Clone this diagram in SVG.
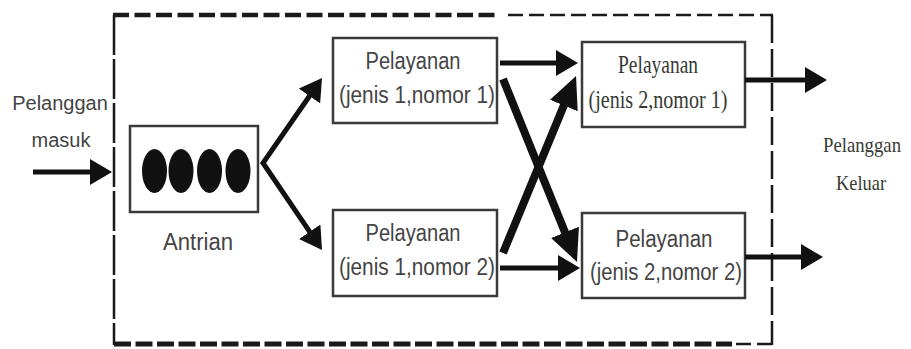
<svg xmlns="http://www.w3.org/2000/svg" width="911" height="349" viewBox="0 0 911 349">
  <style>
    .box { fill: #ffffff; stroke: #3a3a3a; stroke-width: 2.5; }
    .sans { font-family: "Liberation Sans", Arial, sans-serif; fill: #444444; text-anchor: middle; }
    .serif { font-family: "Liberation Serif", "Times New Roman", serif; fill: #363a34; text-anchor: middle; }
    .arrow { fill: none; stroke: #111111; stroke-width: 5; stroke-linejoin: miter; }
    .arrow-thick { fill: none; stroke: #111111; stroke-width: 8; }
    .frame { fill: none; stroke: #1a1a1a; }
    .dot { fill: #111111; }
  </style>
  <defs>
    <marker id="head-s" markerUnits="userSpaceOnUse" markerWidth="22" markerHeight="26" refX="12" refY="13" orient="auto-start-reverse">
      <path d="M0,0 L22,13 L0,26 z" fill="#111111"/>
    </marker>
    <marker id="head-l" markerUnits="userSpaceOnUse" markerWidth="32" markerHeight="30" refX="18" refY="15" orient="auto">
      <path d="M0,0 L32,15 L0,30 z" fill="#111111"/>
    </marker>
  </defs>

  <!-- system boundary (dashed frame) -->
  <g id="boundary">
    <line class="frame" x1="113" y1="15" x2="497" y2="15" stroke-width="4.5" stroke-dasharray="16 5.5"/>
    <line class="frame" x1="508" y1="15" x2="773" y2="15" stroke-width="2.5" stroke-dasharray="15 6"/>
    <line class="frame" x1="114" y1="15" x2="114" y2="345" stroke-width="2.5" stroke-dasharray="40 4"/>
    <line class="frame" x1="772" y1="15" x2="772" y2="345" stroke-width="2.5" stroke-dasharray="28 6"/>
    <line class="frame" x1="114" y1="344" x2="732" y2="344" stroke-width="5" stroke-dasharray="17 4.5"/>
    <line class="frame" x1="736" y1="344" x2="773" y2="344" stroke-width="2.5" stroke-dasharray="15 6"/>
  </g>

  <!-- external labels -->
  <g id="label-in">
    <text class="sans" x="60" y="110" font-size="20">Pelanggan</text>
    <text class="sans" x="61" y="147" font-size="20">masuk</text>
  </g>
  <g id="label-out">
    <text class="serif" x="862" y="152" font-size="21" textLength="78" lengthAdjust="spacingAndGlyphs">Pelanggan</text>
    <text class="serif" x="861" y="190" font-size="21" textLength="50" lengthAdjust="spacingAndGlyphs">Keluar</text>
  </g>

  <!-- queue -->
  <g id="antrian">
    <rect class="box" x="130" y="126" width="128" height="86"/>
    <ellipse class="dot" cx="154.5" cy="171" rx="12.5" ry="22"/>
    <ellipse class="dot" cx="181" cy="171" rx="12.5" ry="22"/>
    <ellipse class="dot" cx="209.5" cy="171" rx="12.5" ry="22"/>
    <ellipse class="dot" cx="238" cy="171" rx="12.5" ry="22"/>
    <text class="sans" x="198" y="250" font-size="23" textLength="70" lengthAdjust="spacingAndGlyphs">Antrian</text>
  </g>

  <!-- service stage 1 -->
  <g id="server-1-1">
    <rect class="box" x="333" y="38" width="164" height="85"/>
    <text class="sans" x="413" y="69" font-size="23" textLength="95" lengthAdjust="spacingAndGlyphs">Pelayanan</text>
    <text class="sans" x="417" y="103" font-size="23" textLength="156" lengthAdjust="spacingAndGlyphs">(jenis 1,nomor 1)</text>
  </g>
  <g id="server-1-2">
    <rect class="box" x="333" y="210" width="164" height="86"/>
    <text class="sans" x="413" y="241" font-size="23" textLength="95" lengthAdjust="spacingAndGlyphs">Pelayanan</text>
    <text class="sans" x="417" y="275" font-size="23" textLength="156" lengthAdjust="spacingAndGlyphs">(jenis 1,nomor 2)</text>
  </g>

  <!-- service stage 2 -->
  <g id="server-2-1">
    <rect class="box" x="582" y="42" width="163" height="85"/>
    <text class="serif" x="658" y="73" font-size="25" textLength="80" lengthAdjust="spacingAndGlyphs">Pelayanan</text>
    <text class="serif" x="658" y="108" font-size="25" textLength="139" lengthAdjust="spacingAndGlyphs">(jenis 2,nomor 1)</text>
  </g>
  <g id="server-2-2">
    <rect class="box" x="582" y="213" width="163" height="85"/>
    <text class="sans" x="664" y="247" font-size="23" textLength="97" lengthAdjust="spacingAndGlyphs">Pelayanan</text>
    <text class="sans" x="666" y="280" font-size="23" textLength="152" lengthAdjust="spacingAndGlyphs">(jenis 2,nomor 2)</text>
  </g>

  <!-- connectors -->
  <g id="connectors">
    <line class="arrow" x1="33" y1="172" x2="102" y2="172" marker-end="url(#head-s)"/>
    <polyline class="arrow" points="316.3,86.2 263,163 316.4,241.7" marker-start="url(#head-s)" marker-end="url(#head-s)"/>
    <line class="arrow" x1="500" y1="63" x2="568" y2="63" marker-end="url(#head-s)"/>
    <line class="arrow" x1="500" y1="268" x2="570" y2="268" marker-end="url(#head-s)"/>
    <line class="arrow-thick" x1="503" y1="79" x2="571.75" y2="249" marker-end="url(#head-l)"/>
    <line class="arrow-thick" x1="503" y1="253" x2="570.7" y2="88.9" marker-end="url(#head-l)"/>
    <line class="arrow" x1="745" y1="80" x2="817" y2="80" marker-end="url(#head-s)"/>
    <line class="arrow" x1="745" y1="257" x2="813" y2="257" marker-end="url(#head-s)"/>
  </g>
</svg>
